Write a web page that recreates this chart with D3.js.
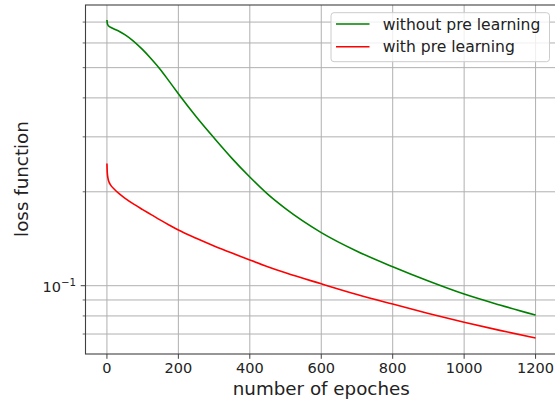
<!DOCTYPE html>
<html>
<head>
<meta charset="utf-8">
<script src="https://cdn.jsdelivr.net/npm/d3@7"></script>
<style>
  body { margin: 0; background: #fff; }
  svg { display: block; font-family: "DejaVu Sans", sans-serif; }
</style>
</head>
<body>
<div id="chart"></div>
<script>
// Values
const epochs = [0, 1, 3, 6, 10, 20, 35, 50, 75, 100, 125, 150, 175, 200, 250, 300,
  350, 400, 450, 500, 600, 700, 800, 900, 1000, 1100, 1200];
const lossWithout = [0.711, 0.695, 0.684, 0.678, 0.674, 0.665, 0.653, 0.638, 0.6075, 0.571,
  0.532, 0.4925, 0.451, 0.4125, 0.348, 0.2975, 0.256, 0.223, 0.1965, 0.1766, 0.148, 0.129,
  0.115, 0.1035, 0.094, 0.0867, 0.0805];
const lossWith = [0.2466, 0.230, 0.2208, 0.2148, 0.2104, 0.2042, 0.1968, 0.191, 0.1826, 0.1754,
  0.1687, 0.1622, 0.1563, 0.1508, 0.1419, 0.1341, 0.1272, 0.1209, 0.1151, 0.1100, 0.1014, 0.0937,
  0.0873, 0.0815, 0.0764, 0.0719, 0.068];
const xTicks = [0, 200, 400, 600, 800, 1000, 1200];
const yMinorTicks = [0.07, 0.08, 0.09, 0.2, 0.3, 0.4, 0.5, 0.6, 0.7];
const yMajorTicks = [0.1];
const seriesNames = ["without pre learning", "with pre learning"];
const seriesColors = ["#008000", "#ff0000"];

const width = 555, height = 403;
const plot = { left: 85.5, top: 5, right: 557, bottom: 354 };

const svg = d3.select("#chart").append("svg")
  .attr("width", width)
  .attr("height", height);

const x = d3.scaleLinear().domain([-60, 1260]).range([plot.left, plot.right]);
const y = d3.scaleLog().domain([0.0604, 0.794]).range([plot.bottom, plot.top]);

// grid (major x, major + minor y)
const grid = svg.append("g").attr("stroke", "#b0b0b0").attr("stroke-width", 1);
grid.selectAll(".gx").data(xTicks).enter().append("line")
  .attr("x1", d => x(d)).attr("x2", d => x(d))
  .attr("y1", plot.top).attr("y2", plot.bottom);
grid.selectAll(".gy").data(yMinorTicks.concat(yMajorTicks)).enter().append("line")
  .attr("x1", plot.left).attr("x2", plot.right)
  .attr("y1", d => y(d)).attr("y2", d => y(d));

// curves
const line = d3.line()
  .x((d, i) => x(epochs[i]))
  .y(d => y(d))
  .curve(d3.curveMonotoneX);

[lossWithout, lossWith].forEach((vals, k) => {
  svg.append("path")
    .datum(vals)
    .attr("fill", "none")
    .attr("stroke", seriesColors[k])
    .attr("stroke-width", 1.6)
    .attr("d", line);
});

// spines
svg.append("rect")
  .attr("x", plot.left).attr("y", plot.top)
  .attr("width", plot.right - plot.left).attr("height", plot.bottom - plot.top)
  .attr("fill", "none").attr("stroke", "#404040").attr("stroke-width", 1.1);

// x axis ticks + labels
const xAxis = svg.append("g");
xAxis.selectAll("line").data(xTicks).enter().append("line")
  .attr("x1", d => x(d)).attr("x2", d => x(d))
  .attr("y1", plot.bottom).attr("y2", plot.bottom + 4.8)
  .attr("stroke", "#404040").attr("stroke-width", 1);
xAxis.selectAll("text").data(xTicks).enter().append("text")
  .attr("x", d => x(d)).attr("y", 373.3)
  .attr("text-anchor", "middle")
  .attr("font-size", 14.5).attr("fill", "#222")
  .text(d => d);

// y axis ticks + labels
const yAxis = svg.append("g");
yAxis.selectAll(".minor").data(yMinorTicks).enter().append("line")
  .attr("x1", plot.left - 2.8).attr("x2", plot.left)
  .attr("y1", d => y(d)).attr("y2", d => y(d))
  .attr("stroke", "#404040").attr("stroke-width", 0.8);
yAxis.selectAll(".major").data(yMajorTicks).enter().append("line")
  .attr("x1", plot.left - 4.8).attr("x2", plot.left)
  .attr("y1", d => y(d)).attr("y2", d => y(d))
  .attr("stroke", "#404040").attr("stroke-width", 1);
yAxis.selectAll("text").data(yMajorTicks).enter().append("text")
  .attr("x", 76).attr("y", d => y(d) + 6.8)
  .attr("text-anchor", "end")
  .attr("font-size", 14.5).attr("fill", "#222")
  .each(function(d) {
    const t = d3.select(this);
    const exp = Math.round(Math.log10(d));
    t.append("tspan").text("10");
    t.append("tspan").attr("dy", -6.5).attr("font-size", 10.2).text("\u2212" + Math.abs(exp));
  });

// axis labels
svg.append("text")
  .attr("x", (plot.left + plot.right) / 2).attr("y", 395)
  .attr("text-anchor", "middle")
  .attr("font-size", 18.3).attr("fill", "#222")
  .text("number of epoches");
svg.append("text")
  .attr("transform", "translate(28,179) rotate(-90)")
  .attr("text-anchor", "middle")
  .attr("font-size", 18.3).attr("fill", "#222")
  .text("loss function");

// legend
const legend = svg.append("g");
legend.append("rect")
  .attr("x", 331).attr("y", 12.7)
  .attr("width", 218.5).attr("height", 49)
  .attr("rx", 3)
  .attr("fill", "#fff").attr("fill-opacity", 0.8)
  .attr("stroke", "#cccccc").attr("stroke-width", 1);
seriesNames.forEach((name, k) => {
  const ly = 24 + k * 22.7;
  legend.append("line")
    .attr("x1", 336).attr("x2", 369.5)
    .attr("y1", ly).attr("y2", ly)
    .attr("stroke", seriesColors[k]).attr("stroke-width", 1.6);
  legend.append("text")
    .attr("x", 382.7).attr("y", ly + 5.5)
    .attr("font-size", 15.6).attr("fill", "#222")
    .text(name);
});
</script>
</body>
</html>
